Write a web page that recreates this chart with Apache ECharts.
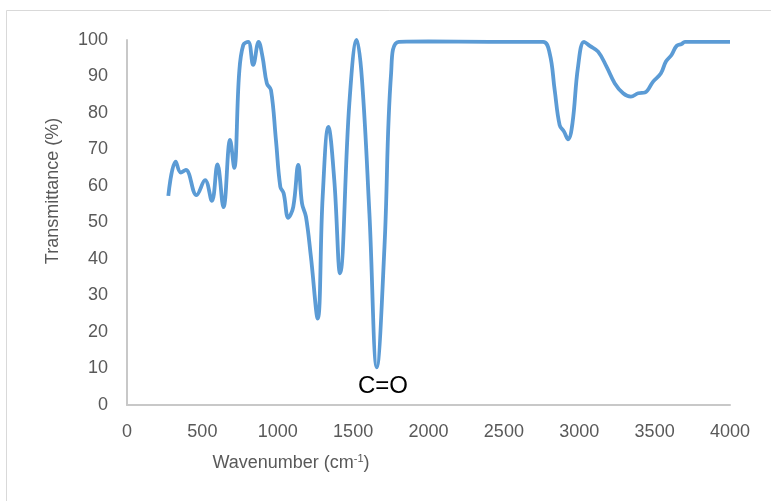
<!DOCTYPE html>
<html>
<head>
<meta charset="utf-8">
<script src="https://cdn.jsdelivr.net/npm/echarts@6/dist/echarts.min.js"></script>
<style>html,body{margin:0;padding:0;background:#fff;}#c{width:771px;height:501px;}</style>
</head>
<body>
<div id="c"></div>
<script>
var wavenumber = [274,323,357,390,461,518,563,600,640,684,711,744,771,804,837,873,899,928,955,988,1017,1039,1070,1103,1136,1161,1187,1220,1265,1298,1336,1375,1413,1475,1524,1559,1608,1657,1708,1752,1803,2000,2400,2760,2804,2837,2870,2899,2926,2955,2992,3032,3070,3125,3181,3236,3291,3342,3391,3435,3490,3542,3575,3612,3646,3679,3701,4000];
var transmittance = [57.3,66.7,63.7,64.4,57.5,61.6,55.9,65.9,54.2,72.6,65,90.9,98.6,99.5,93.2,99.5,95.4,88.1,86.3,72.6,59.8,58,51.3,54.3,65.8,55.2,51.6,40.6,23.7,57.1,76.2,61.6,36.1,82.7,100,89,52.5,10.3,43.4,90.9,99.5,99.6,99.5,99.5,96.3,86.3,76.7,74.9,72.8,77.2,92.7,99.5,98.4,96.8,92.7,88.1,85.4,84.5,85.4,85.6,88.6,90.9,94.1,95.9,98.4,98.9,99.5,99.5];
var xTicks = [0,500,1000,1500,2000,2500,3000,3500,4000];
var yTicks = [0,10,20,30,40,50,60,70,80,90,100];
var xTitle = 'Wavenumber (cm';
var yTitle = 'Transmittance (%)';
var peakLabel = 'C=O';

var chart = echarts.init(document.getElementById('c'), null, {renderer:'canvas'});
var pts = wavenumber.map(function(x,i){return [x, transmittance[i]];});
var labelFont = '"Liberation Sans",Arial,sans-serif';
chart.setOption({
  animation:false,
  backgroundColor:'#fff',
  grid:{left:127,right:41,top:40,bottom:96},
  xAxis:{type:'value',min:xTicks[0],max:xTicks[xTicks.length-1],interval:500,
    axisLine:{show:true,lineStyle:{color:'#c8c8c8',width:2}},
    axisTick:{show:false},splitLine:{show:false},
    axisLabel:{color:'#595959',fontSize:18,fontFamily:labelFont,margin:18,formatter:function(v){return String(v);}}},
  yAxis:{type:'value',min:yTicks[0],max:yTicks[yTicks.length-1],interval:10,
    axisLine:{show:true,lineStyle:{color:'#c8c8c8',width:2}},
    axisTick:{show:false},splitLine:{show:false},
    axisLabel:{color:'#595959',fontSize:18,fontFamily:labelFont,margin:19,formatter:function(v){return String(v);}}},
  series:[{type:'line',data:pts,smooth:0.4,symbol:'none',
    lineStyle:{color:'#5b9bd5',width:3.8}}],
  graphic:[
    {type:'rect',shape:{x:6.5,y:10.5,width:800,height:600},style:{fill:'none',stroke:'#d9d9d9',lineWidth:1}},
    {type:'text',x:291,y:463,style:{
      text:'{a|'+xTitle+'}{s|-1}{a|)}',
      rich:{a:{fontSize:18,fontFamily:labelFont,fill:'#595959'},s:{fontSize:11,fontFamily:labelFont,fill:'#595959',verticalAlign:'top',padding:[0,0,8,0]}},
      textAlign:'center',textVerticalAlign:'middle'}},
    {type:'text',x:53,y:191,rotation:Math.PI/2,style:{text:yTitle,fontSize:18,fontFamily:labelFont,fill:'#595959',textAlign:'center',textVerticalAlign:'middle'}},
    {type:'text',x:383,y:386,style:{text:peakLabel,fontSize:24,fontFamily:'"Liberation Sans",Arial,sans-serif',fill:'#000',textAlign:'center',textVerticalAlign:'middle'}}
  ]
});
</script>
</body>
</html>
